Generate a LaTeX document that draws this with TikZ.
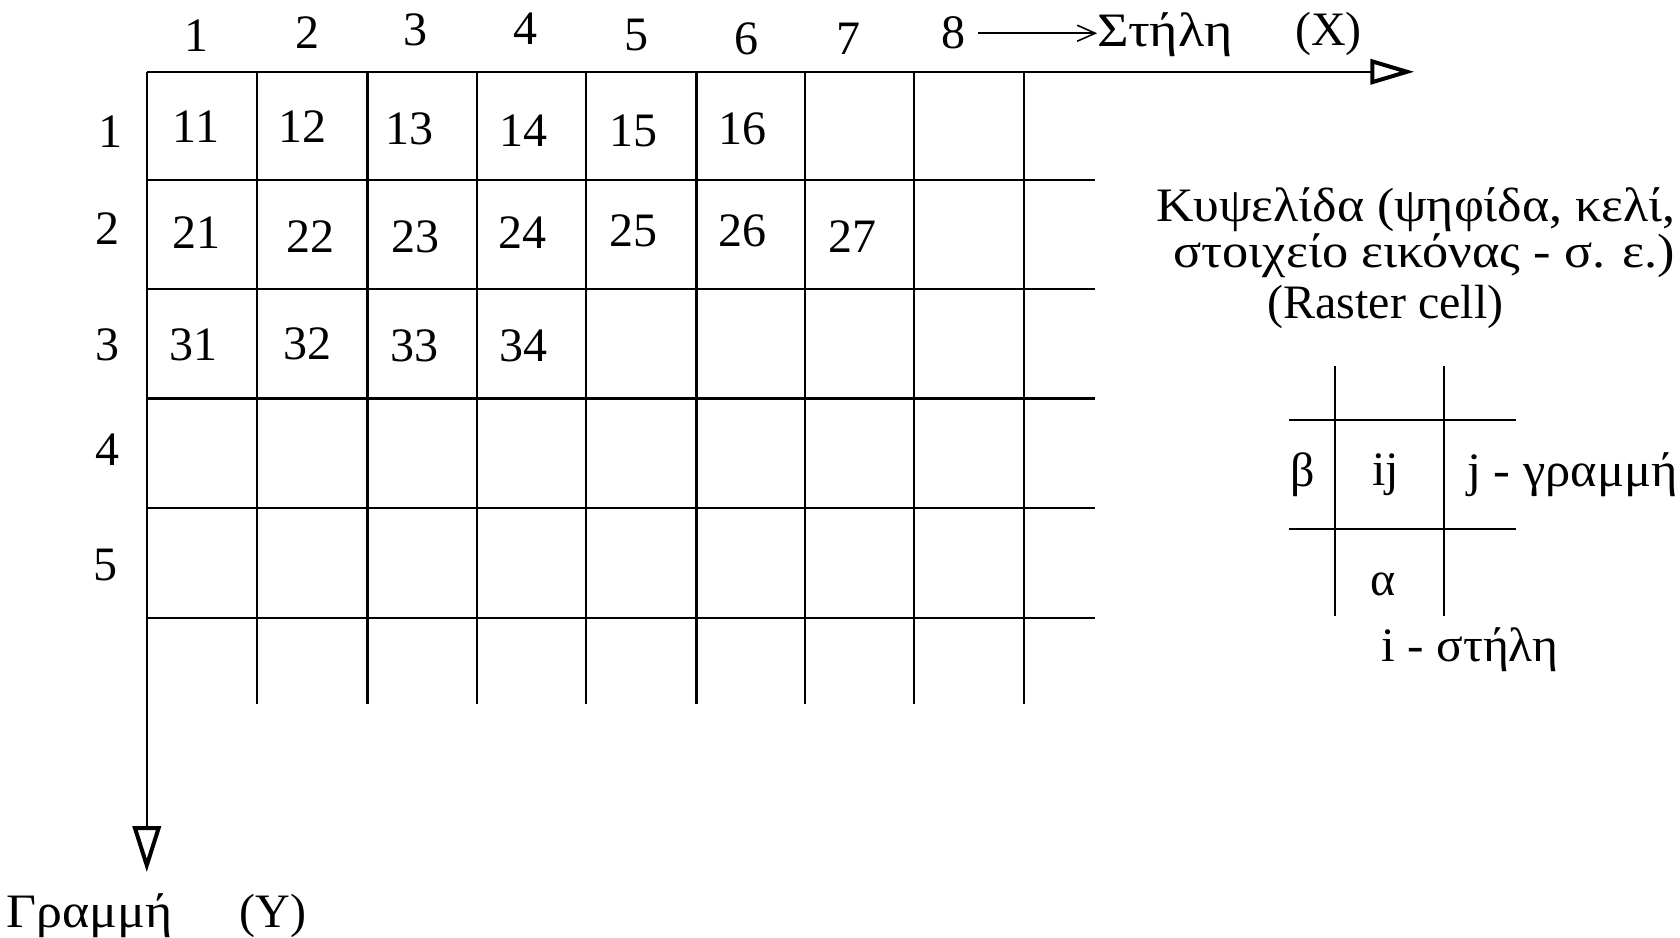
\documentclass[tikz,border=0pt]{standalone}
\usepackage{graphicx}
\usepackage{fontspec}
\setmainfont{Liberation Serif}
\usetikzlibrary{arrows.meta}
\newcommand{\wide}[2]{\scalebox{#1}[1]{#2}}
\begin{document}
\begin{tikzpicture}[x=0.5357pt,y=-0.5357pt,
  gridline/.style={line width=1.1pt},
  lbl/.style={font=\fontsize{24}{27}\selectfont, inner sep=0pt},
  xaxis/.style={line width=1.1pt, -{Triangle[open,length=22pt,width=12.5pt,line width=2pt]}},
  yaxis/.style={line width=1.1pt, -{Triangle[open,length=23pt,width=14pt,line width=2pt]}},
  textarrow/.style={line width=0.8pt, -{Straight Barb[length=9pt,width=8pt,line width=0.8pt]}}]
\useasboundingbox (0,0) rectangle (1568,875);
% axes
\coordinate (O) at (137,67);
\coordinate (Xtip) at (1320,67);
\coordinate (Ytip) at (137,814);
\draw[xaxis] (O) -- (Xtip);
\draw[yaxis] (O) -- (Ytip);
% grid
\foreach \x in {240,343,445,547,650,751,853,956}
  \draw[gridline] (\x,67) -- (\x,657);
\foreach \y in {168,270,372,474,577}
  \draw[gridline] (137,\y) -- (1022,\y);
% column numbers
\node[lbl] (c1) at (183,33) {1};
\node[lbl] (c2) at (287,30) {2};
\node[lbl] (c3) at (388,28) {3};
\node[lbl] (c4) at (490,27) {4};
\node[lbl] (c5) at (594,33) {5};
\node[lbl] (c6) at (697,36) {6};
\node[lbl] (c7) at (792,36) {7};
\node[lbl] (c8) at (890,31) {8};
\node[lbl,anchor=west] (stili) at (1024,32) {\wide{1.13}{Στήλη}};
\node[lbl] (X) at (1240,32) {(X)};
\coordinate (a0) at (913,31);
\draw[textarrow] (a0) -- (stili.west |- a0);
% row numbers
\node[lbl] (r1) at (103,123) {1};
\node[lbl] (r2) at (100,213) {2};
\node[lbl] (r3) at (100,322) {3};
\node[lbl] (r4) at (100,420) {4};
\node[lbl] (r5) at (98,527) {5};
% cell values
\node[lbl] (n11) at (183,118) {11};
\node[lbl] (n12) at (282,118) {12};
\node[lbl] (n13) at (382,120) {13};
\node[lbl] (n14) at (489,122) {14};
\node[lbl] (n15) at (591,122) {15};
\node[lbl] (n16) at (693,120) {16};
\node[lbl] (n21) at (183,217) {21};
\node[lbl] (n22) at (290,221) {22};
\node[lbl] (n23) at (388,221) {23};
\node[lbl] (n24) at (488,217) {24};
\node[lbl] (n25) at (591,215) {25};
\node[lbl] (n26) at (693,215) {26};
\node[lbl] (n27) at (796,221) {27};
\node[lbl] (n31) at (181,322) {31};
\node[lbl] (n32) at (287,321) {32};
\node[lbl] (n33) at (387,323) {33};
\node[lbl] (n34) at (489,323) {34};
% Y label
\node[lbl,anchor=base west] (grammi) at (6,866) {\wide{1.08}{Γραμμή}};
\node[lbl,anchor=base] (Y) at (255,866) {(Y)};
% raster cell description
\node[lbl,anchor=base east] (t1) at (1564,207) {\wide{1.08}{Κυψελίδα (ψηφίδα, κελί,}};
\node[lbl,anchor=base east] (t2) at (1564,250) {\wide{1.09}{στοιχείο εικόνας - σ. ε.)}};
\node[lbl,anchor=base] (t3) at (1293,297) {(Raster cell)};
% small cell
\draw[gridline] (1246,342) -- (1246,575);
\draw[gridline] (1348,342) -- (1348,575);
\draw[gridline] (1203,392) -- (1415,392);
\draw[gridline] (1203,494) -- (1415,494);
\node[lbl] (beta) at (1216,443) {β};
\node[lbl] (ij) at (1293,443) {ij};
\node[lbl,anchor=west] (jg) at (1369,443) {\wide{1.05}{j - γραμμή}};
\node[lbl] (alpha) at (1291,545) {α};
\node[lbl,anchor=base] (is) at (1372,617) {\wide{1.03}{i - στήλη}};
\end{tikzpicture}
\end{document}
